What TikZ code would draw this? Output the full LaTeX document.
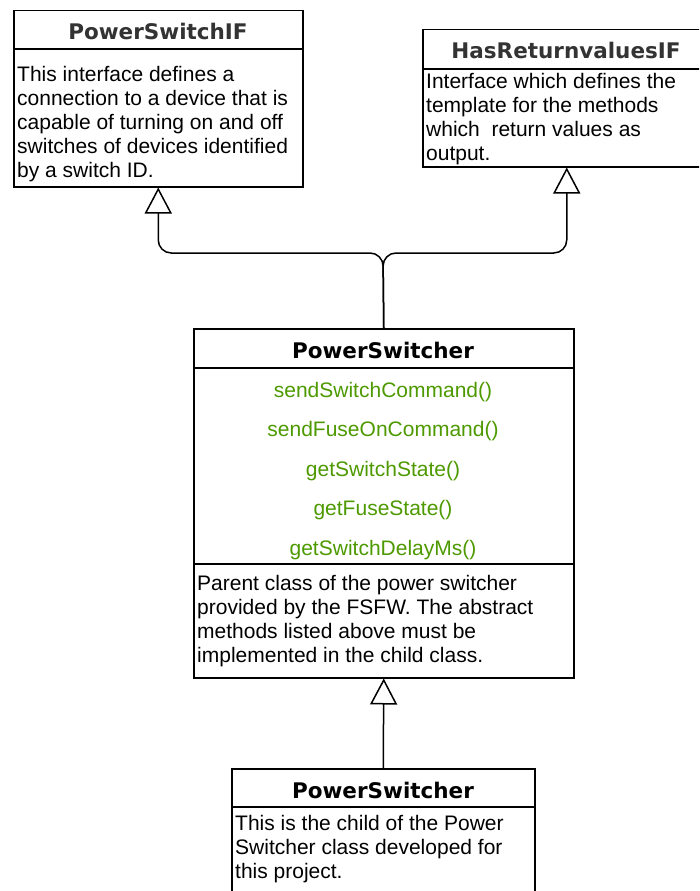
\documentclass[tikz,border=0pt]{standalone}
\usepackage{fontspec}
\setmainfont{Liberation Sans}
\newfontfamily\titlefont{DejaVu Sans}
\usetikzlibrary{arrows.meta}
\definecolor{methodgreen}{HTML}{4D9900}
\definecolor{titlegray}{HTML}{333333}
\tikzset{
  classbox/.style={draw, line width=1.5pt, inner sep=0pt, anchor=north west},
  divider/.style={line width=1.5pt},
  classtitle/.style={anchor=base, inner sep=0pt, font=\titlefont\bfseries\fontsize{21.5}{24}\selectfont},
  desc/.style={anchor=north west, inner sep=0pt, align=left, font=\fontsize{21}{24}\selectfont},
  method/.style={anchor=base, inner sep=0pt, text=methodgreen, font=\fontsize{21}{24}\selectfont},
  inherit/.style={line width=1.5pt, rounded corners=13pt,
    -{Triangle[open, length=26pt, width=27pt, line width=1.5pt]}},
}
\begin{document}
\begin{tikzpicture}[x=1pt, y=-1pt]
\useasboundingbox (0,0) rectangle (699,891);
\clip (0,0) rectangle (699,891);

% interface: PowerSwitchIF
\node[classbox, minimum width=289pt, minimum height=176pt] (psif) at (13,10) {};
\draw[divider] (13,49) -- (302,49);
\node[classtitle, text=titlegray] (psiftitle) at (158,40) {PowerSwitchIF};
\node[desc] (psifdesc) at (17,64.2) {\strut This interface defines a\\
connection to a device that is\\
capable of turning on and off\\
switches of devices identified\\
by a switch ID.};

% interface: HasReturnvaluesIF
\node[classbox, minimum width=288pt, minimum height=137pt] (hrif) at (422,29) {};
\draw[divider] (422,69) -- (710,69);
\node[classtitle, text=titlegray] (hriftitle) at (566,59) {HasReturnvaluesIF};
\node[desc] (hrifdesc) at (426,71.2) {\strut Interface which defines the\\
template for the methods\\
which\ \ return values as\\
output.};

% abstract parent class
\node[classbox, minimum width=380pt, minimum height=349pt] (ps) at (193,328) {};
\draw[divider] (193,368) -- (573,368);
\draw[divider] (193,564) -- (573,564);
\node[classtitle] (pstitle) at (383,358) {PowerSwitcher};
\node[method] (m1) at (383,397) {sendSwitchCommand()};
\node[method] (m2) at (383,436.5) {sendFuseOnCommand()};
\node[method] (m3) at (383,476) {getSwitchState()};
\node[method] (m4) at (383,515.5) {getFuseState()};
\node[method] (m5) at (383,555) {getSwitchDelayMs()};
\node[desc] (psdesc) at (197,573.2) {\strut Parent class of the power switcher\\
provided by the FSFW. The abstract\\
methods listed above must be\\
implemented in the child class.};

% child class
\node[classbox, minimum width=303pt, minimum height=150pt] (child) at (231,768) {};
\draw[divider] (231,807) -- (534,807);
\node[classtitle] (childtitle) at (383,798) {PowerSwitcher};
\node[desc] (childdesc) at (235,813.2) {\strut This is the child of the Power\\
Switcher class developed for\\
this project.};

% generalisation connectors
\coordinate (split) at (383,253);
\draw[inherit] (ps.north) -- (split) -| (psif.south);
\draw[inherit] (ps.north) -- (split) -| (hrif.south);
\draw[inherit] (child.north) -- (ps.south);
\end{tikzpicture}
\end{document}
